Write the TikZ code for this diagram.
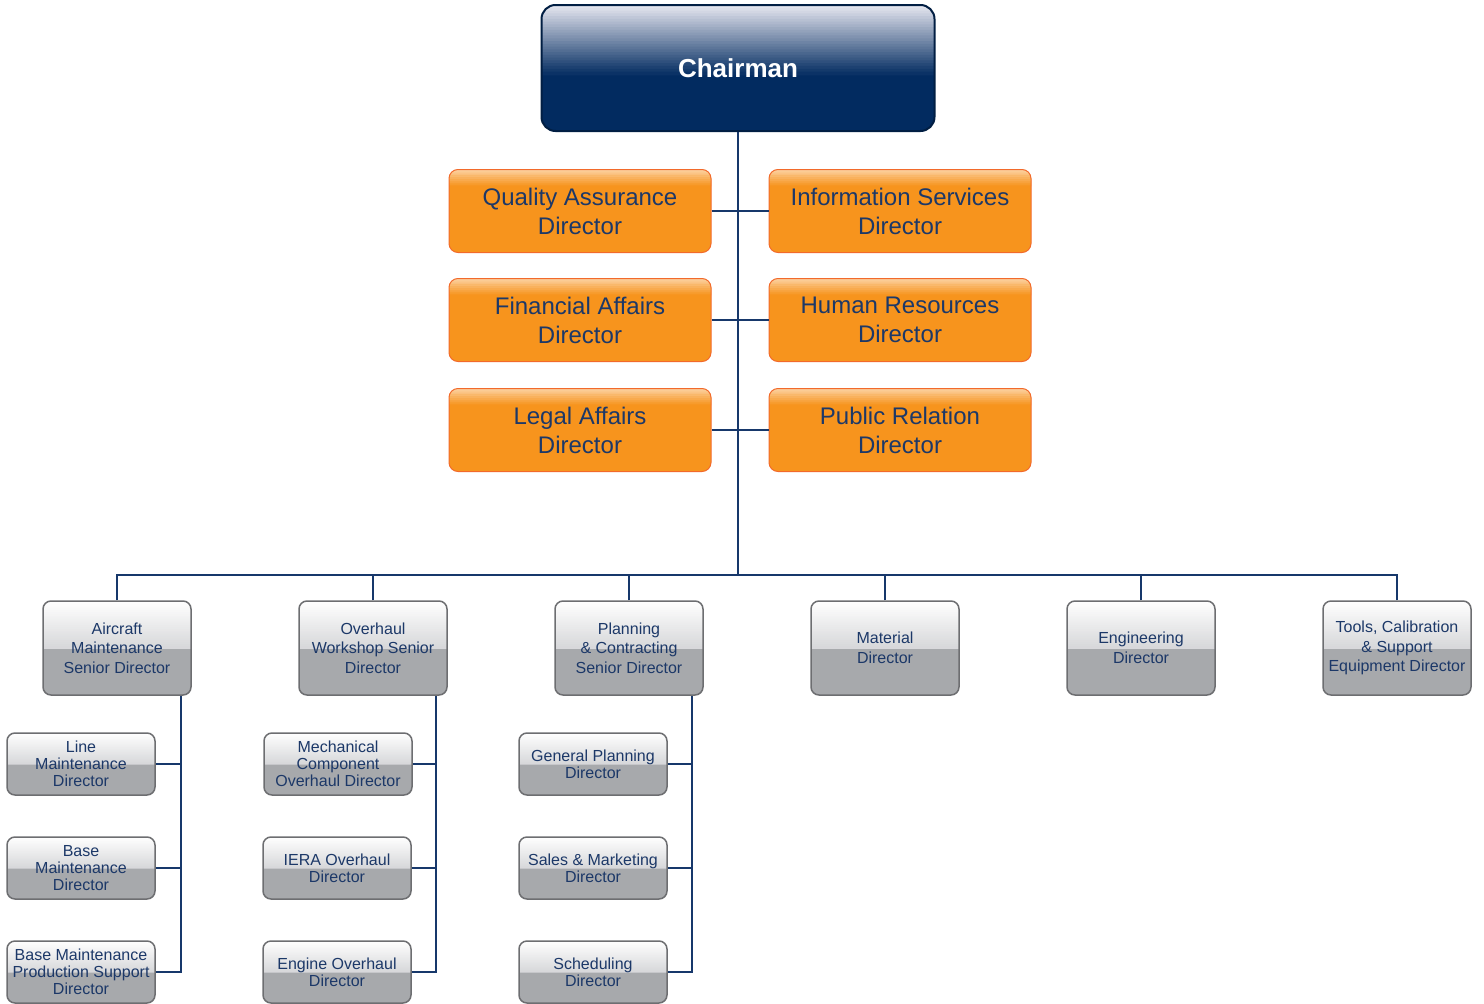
\documentclass[tikz,border=0pt]{standalone}
\usepackage{fontspec}
\setmainfont{Liberation Sans}
\usetikzlibrary{calc}
\definecolor{navy}{HTML}{022B60}
\definecolor{navytop}{HTML}{E4E5EF}
\definecolor{orng}{HTML}{F7941D}
\definecolor{orngtop}{HTML}{FCD3A4}
\definecolor{orngline}{HTML}{F26A2B}
\definecolor{greybox}{HTML}{A7A9AC}
\definecolor{greytop}{HTML}{D6D7D9}
\definecolor{greyline}{HTML}{6D6E71}
\definecolor{txtblue}{HTML}{1C3868}
\definecolor{wire}{HTML}{17386B}
\newcommand\gradband[3]{%
  \foreach \k in {0,...,24}{%
    \pgfmathsetmacro\ya{1-\k/25*#1}%
    \pgfmathsetmacro\yb{1-(\k+1.4)/25*#1}%
    \pgfmathtruncatemacro\mix{100-4*\k}%
    \fill[#2!\mix!#3]
      ($(path picture bounding box.south west)!\ya!(path picture bounding box.north west)+(-20,0)$) rectangle
      ($(path picture bounding box.south east)!\yb!(path picture bounding box.north east)+(20,0)$);
  }}
\tikzset{
  chairbox/.style={draw=navy!70!black,line width=2pt,rounded corners=14pt,fill=navy,
    minimum width=393pt,minimum height=126pt,text=white,
    font=\bfseries\fontsize{26}{30}\selectfont,
    path picture={\gradband{0.55}{navytop}{navy}}},
  dirbox/.style={draw=orngline,line width=1pt,rounded corners=9pt,fill=orng,
    minimum width=262pt,minimum height=83pt,text=txtblue,align=center,
    font=\fontsize{24}{29}\selectfont,
    path picture={\gradband{0.2}{orngtop}{orng}}},
  seniorbox/.style={draw=greyline,line width=1.5pt,rounded corners=8pt,fill=greybox,
    minimum width=148pt,minimum height=94pt,text=txtblue,align=center,
    font=\fontsize{16}{19.5}\selectfont,
    path picture={\gradband{0.5}{white}{greytop}}},
  subbox/.style={seniorbox,minimum height=62pt,font=\fontsize{16}{17}\selectfont},
  wire/.style={draw=wire,line width=2pt}
}
\begin{document}
\begin{tikzpicture}[x=1pt,y=1pt]
        \useasboundingbox (0,0) rectangle (1484,-1004);
        \node[chairbox] (chair) at (738,-68) {Chairman};
        \node[dirbox] (qad) at (580,-211) {Quality Assurance\\Director};
        \node[dirbox] (isd) at (900,-211) {Information Services\\Director};
        \node[dirbox] (fad) at (580,-320) {Financial Affairs\\Director};
        \node[dirbox] (hrd) at (900,-320) {Human Resources\\Director};
        \node[dirbox] (lad) at (580,-430) {Legal Affairs\\Director};
        \node[dirbox] (prd) at (900,-430) {Public Relation\\Director};
        \coordinate (bus) at (738,-575);
        \node[seniorbox] (amd) at (117,-648) {Aircraft\\Maintenance\\Senior Director};
        \node[seniorbox] (owd) at (373,-648) {Overhaul\\Workshop Senior\\Director};
        \node[seniorbox] (pcd) at (629,-648) {Planning\\\& Contracting\\Senior Director};
        \node[seniorbox] (mtd) at (885,-648) {Material\\Director};
        \node[seniorbox] (egd) at (1141,-648) {Engineering\\Director};
        \node[seniorbox] (tcd) at (1397,-648) {Tools, Calibration\\\& Support\\Equipment Director};
        \node[subbox] (lmd) at (81,-764) {Line\\Maintenance\\Director};
        \node[subbox] (bmd) at (81,-868) {Base\\Maintenance\\Director};
        \node[subbox] (bpd) at (81,-972) {Base Maintenance\\Production Support\\Director};
        \node[subbox] (mcd) at (338,-764) {Mechanical\\Component\\Overhaul Director};
        \node[subbox] (ied) at (337,-868) {IERA Overhaul\\Director};
        \node[subbox] (eod) at (337,-972) {Engine Overhaul\\Director};
        \node[subbox] (gpd) at (593,-764) {General Planning\\Director};
        \node[subbox] (smd) at (593,-868) {Sales \& Marketing\\Director};
        \node[subbox] (scd) at (593,-972) {Scheduling\\Director};
        \draw[wire] (chair.south) -- (bus);
        \draw[wire] (qad.east) -- (isd.west);
        \draw[wire] (fad.east) -- (hrd.west);
        \draw[wire] (lad.east) -- (prd.west);
        \foreach \s in {amd,owd,pcd,mtd,egd,tcd}
          \draw[wire] (\s.north) |- (bus);
        \foreach \s in {lmd,bmd,bpd}
          \draw[wire] (\s.east) -| ([xshift=-11pt]amd.south east);
        \foreach \s in {mcd,ied,eod}
          \draw[wire] (\s.east) -| ([xshift=-12pt]owd.south east);
        \foreach \s in {gpd,smd,scd}
          \draw[wire] (\s.east) -| ([xshift=-12pt]pcd.south east);
\end{tikzpicture}
\end{document}
